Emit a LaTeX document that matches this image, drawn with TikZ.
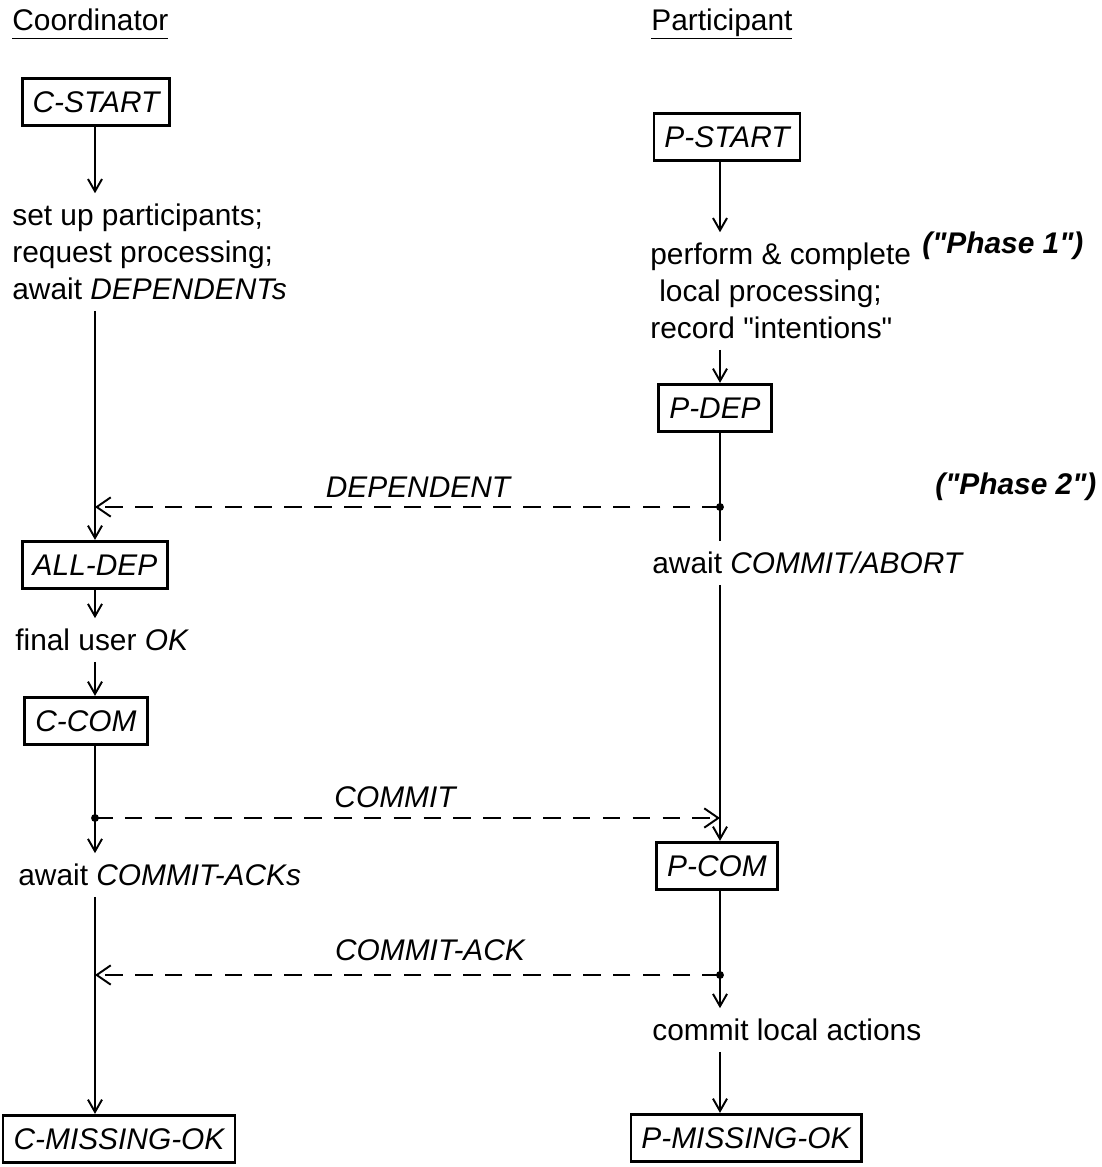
\documentclass[tikz,border=0pt]{standalone}
\usepackage{fontspec}
\setmainfont{Liberation Sans}
\usetikzlibrary{arrows.meta,positioning}

\begin{document}
\begin{tikzpicture}[
    x=0.02cm, y=-0.02cm,
    every node/.style={font=\fontsize{17}{21}\selectfont},
    state/.style={draw=black, line width=1.6pt, inner xsep=6pt,
                  minimum height=27pt, font=\fontsize{17}{21}\selectfont\itshape},
    txt/.style={align=left, anchor=west, inner xsep=0pt, inner ysep=6pt},
    hdr/.style={anchor=base west, inner sep=0pt},
    phase/.style={anchor=west, inner sep=0pt,
                  font=\fontsize{17}{21}\selectfont\bfseries\itshape},
    mlabel/.style={inner sep=0pt, font=\fontsize{17}{21}\selectfont\itshape},
    flow/.style={-{Straight Barb[length=7pt,width=8pt]}, line width=1.1pt},
    lline/.style={line width=1.1pt},
    msg/.style={-{Straight Barb[length=8pt,width=11pt]}, line width=1.1pt,
                dash pattern=on 10pt off 7pt},
    dot/.style={circle, fill=black, inner sep=0pt, minimum size=4.5pt},
]
\useasboundingbox (0,0) rectangle (1102,1167);

% ── column x-positions ──────────────────────────────────────
\coordinate (colC) at (95,0);   % Coordinator
\coordinate (colP) at (720,0);  % Participant

% ════ HEADERS ════════════════════════════════════════════════
\node[hdr] (hdrC) at (12,30)  {\underline{Coordinator\vphantom{p}}};
\node[hdr] (hdrP) at (651,30) {\underline{Participant}};

% ════ COORDINATOR ════════════════════════════════════════════
\node[state] (cstart) at (96,102) {C-START};
\node[txt] (setup) at (12,252)
    {set up participants;\\request processing;\\await \textit{DEPENDENTs}};
\node[state] (alldep) at (95,565) {ALL-DEP};
\node[txt] (finalok) at (15,640) {final user \textit{OK}};
\node[state] (ccom) at (86,721) {C-COM};
\coordinate (dcom) at (95,818);
\node[txt] (awaitack) at (18,875) {await \textit{COMMIT-ACKs}};
\node[state] (cmiss) at (119,1139) {C-MISSING-OK};

% ════ PARTICIPANT ════════════════════════════════════════════
\node[state] (pstart) at (727,137) {P-START};
\node[txt] (perform) at (650,291)
    {perform \& complete\\\hspace{0.3em}local processing;\\record \textquotedbl intentions\textquotedbl};
\node[state] (pdep) at (715,408) {P-DEP};
\coordinate (ddep) at (720,507);
\node[txt] (awaitcom) at (652,563) {await \textit{COMMIT/ABORT}};
\node[state] (pcom) at (717,866) {P-COM};
\coordinate (dack) at (720,975);
\node[txt] (commitloc) at (652,1030) {commit local actions};
\node[state] (pmiss) at (746,1138) {P-MISSING-OK};

% ── phases ───────────────────────────────────────────────────
\node[phase] (ph1) at (922,246) {(\textquotedbl Phase 1\textquotedbl)};
\node[phase] (ph2) at (935,487) {(\textquotedbl Phase 2\textquotedbl)};

% ── coordinator flow ─────────────────────────────────────────
\draw[flow] (cstart.south -| colC) -- (setup.north -| colC);
\draw[flow] (setup.south -| colC) -- (alldep.north -| colC);
\draw[flow] (alldep.south -| colC) -- (finalok.north -| colC);
\draw[flow] (finalok.south -| colC) -- (ccom.north -| colC);
\draw[lline] (ccom.south -| colC) -- (dcom);
\draw[flow] (dcom) -- (awaitack.north -| colC);
\draw[flow] (awaitack.south -| colC) -- (cmiss.north -| colC);

% ── participant flow ─────────────────────────────────────────
\draw[flow] (pstart.south -| colP) -- (perform.north -| colP);
\draw[flow] (perform.south -| colP) -- (pdep.north -| colP);
\draw[lline] (pdep.south -| colP) -- (ddep);
\draw[lline] (ddep) -- (awaitcom.north -| colP);
\draw[flow] (awaitcom.south -| colP) -- (pcom.north -| colP);
\draw[lline] (pcom.south -| colP) -- (dack);
\draw[flow] (dack) -- (commitloc.north -| colP);
\draw[flow] (commitloc.south -| colP) -- (pmiss.north -| colP);

% ════ MESSAGES ═══════════════════════════════════════════════
\draw[msg] (ddep) -- (ddep -| colC);
\node[mlabel] (lDep) at (418,487) {DEPENDENT};
\draw[msg] (dcom) -- (dcom -| colP);
\node[mlabel] (lCom) at (395,797) {COMMIT};
\draw[msg] (dack) -- (dack -| colC);
\node[mlabel] (lAck) at (430,950) {COMMIT-ACK};

% ── junction dots ────────────────────────────────────────────
\node[dot] (jDep) at (ddep) {};
\node[dot] (jCom) at (dcom) {};
\node[dot] (jAck) at (dack) {};

\end{tikzpicture}
\end{document}
